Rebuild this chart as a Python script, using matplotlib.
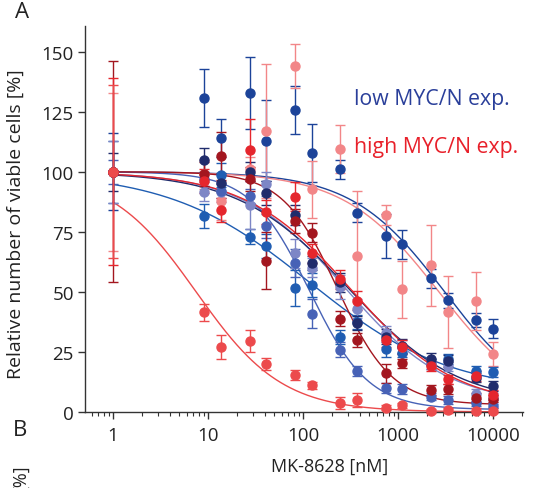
import numpy as np
import matplotlib
matplotlib.use("Agg")
import matplotlib.pyplot as plt

plt.rcParams['font.family'] = ['Open Sans', 'DejaVu Sans']

# concentrations (nM)
conc = [1, 9.145, 13.72, 27.43, 41.15, 82.30, 123.5, 246.9, 370.4, 740.7, 1111, 2222, 3333, 6667, 10000]

# low MYC/N expression lines
blue_right = [100, 130.7, 114, 133, 113, 125.7, 107.8, 101, 83, 73.3, 69.9, 55.7, 46.5, 38.3, 34.7]
blue_right_err = [16, 12, 8, 15, 17, 10, 12, 4, 4, 9, 6, 4, 3, 3, 4]
navy = [100, 105, 95.5, 100, 91, 82, 62, 54, 37, 31.4, 27.5, 22, 21.3, 14.3, 10.8]
navy_err = [8, 5, 4, 4, 5, 4, 3, 4, 3, 3, 3, 2.5, 2.5, 2, 2]
periwinkle = [100, 91.7, 91.5, 86, 95, 66, 60, 52, 43, 33, 27, 20, 19, 7.4, 6]
periwinkle_err = [13, 4, 4, 10, 5, 6, 4, 5, 4, 3, 3, 2, 2, 2, 2]
slate = [100, 97, 92, 90, 77.5, 62, 41, 26, 17, 10, 9.5, 6.3, 5, 3.6, 2.5]
slate_err = [5, 3, 3, 3, 5, 6, 6, 3, 2, 2, 2, 1.5, 1.5, 1, 1]
royal = [100, 81.7, 98.6, 73, 69, 51.5, 53, 31.3, 37.5, 26.1, 24.7, 19.9, 22, 17, 16.7]
royal_err = [13, 5, 5, 3, 5, 7.5, 5, 3, 3, 3, 2, 2, 2, 2, 2]

# high MYC/N expression lines
salmon = [100, 99, 88, 101, 117, 144, 92.7, 109.5, 65, 82, 51, 61, 41.7, 46.3, 24.3]
salmon_err = [33, 6, 8, 5, 28, 9, 12, 10, 27, 4, 12, 17, 15, 12, 5]
red = [100, 96.3, 84.2, 109, 83.3, 89.6, 66, 55.3, 46.3, 30, 27, 19, 13.6, 15, 7]
red_err = [39, 5, 5, 13, 5, 6, 4, 4, 4, 3, 3, 2, 2, 2, 2]
darkred = [100, 99, 106.6, 97, 63, 79.6, 74.7, 38.9, 30, 16.1, 20.2, 9.2, 9.7, 6, 5.6]
darkred_err = [46, 5, 10, 5, 12, 5, 4, 3, 3, 4, 2, 2, 2, 2, 1.5]
potent = [100, 41.5, 27, 29.5, 20, 15.3, 11.1, 3.6, 5, 1.8, 2.8, 0.4, 0.7, 0.6, 0.5]
potent_err = [36, 3.5, 5, 4.5, 2.5, 2, 1.5, 2.5, 3, 1, 1, 1, 1, 1, 1]

# fitted 4-parameter logistic curves: (top, bottom, EC50, hill)
fits = {
    'blue_right': (100, 0, 3100, 0.89),
    'navy': (100, 3, 300, 0.75),
    'periwinkle': (100, 3, 280, 0.8),
    'slate': (100, 1, 117, 1.4),
    'royal': (100, 8, 117, 0.59),
    'salmon': (100, 0, 2700, 0.87),
    'red': (100, 2, 320, 0.78),
    'darkred': (100, 3, 230, 1.5),
    'potent': (100, 0, 7.5, 0.96),
}

series = [
    ('blue_right', blue_right, blue_right_err, '#1c4399'),
    ('salmon', salmon, salmon_err, '#f28688'),
    ('royal', royal, royal_err, '#1f5db2'),
    ('periwinkle', periwinkle, periwinkle_err, '#7d86c6'),
    ('slate', slate, slate_err, '#4762b6'),
    ('navy', navy, navy_err, '#202c6c'),
    ('darkred', darkred, darkred_err, '#a3161f'),
    ('red', red, red_err, '#e5262d'),
    ('potent', potent, potent_err, '#ec4a4c'),
]

W, H = 539, 489
fig = plt.figure(figsize=(W / 100, H / 100), dpi=100)
ax = fig.add_axes([85 / W, 1 - 413 / H, (523 - 85) / W, (413 - 27) / H])

xx = np.logspace(0, 4, 400)
for name, vals, errs, col in series:
    top, bot, ec, h = fits[name]
    yy = bot + (top - bot) / (1 + (xx / ec) ** h)
    ax.plot(xx, yy, color=col, lw=1.0, zorder=2, clip_on=False)
for name, vals, errs, col in series:
    ax.errorbar(conc, vals, yerr=errs, fmt='o', color=col, ms=6.5,
                elinewidth=1.0, capsize=3.3, capthick=1.0, zorder=3, clip_on=False)

ax.set_xscale('log')
ax.set_xlim(0.507, 20700)
ax.set_ylim(0, 160.7)
ax.set_yticks([0, 25, 50, 75, 100, 125, 150])
ax.set_xticks([1, 10, 100, 1000, 10000])
ax.set_xticklabels(['1', '10', '100', '1000', '10000'])
for s in ['top', 'right']:
    ax.spines[s].set_visible(False)
for s in ['left', 'bottom']:
    ax.spines[s].set_color('#333333')
    ax.spines[s].set_linewidth(1.0)
ax.tick_params(axis='both', which='major', direction='out', length=5, width=1.0,
               color='#333333', labelsize=13.5, labelcolor='#222222')
ax.tick_params(axis='x', which='major', pad=5)
ax.tick_params(axis='y', which='major', pad=3)
ax.tick_params(axis='x', which='minor', direction='out', length=3, width=0.8, color='#333333')
ax.set_ylabel('Relative number of viable cells [%]', fontsize=14, color='#222222')
ax.yaxis.set_label_coords(-60 / 438, (413 - 224) / 386)

fig.text(354 / W, 1 - 100 / H, 'low MYC/N exp.', color='#2a3f9a', fontsize=15.3, va='center', ha='left')
fig.text(354 / W, 1 - 147 / H, 'high MYC/N exp.', color='#e8202a', fontsize=15.3, va='center', ha='left')

fig.text(22 / W, 1 - 13 / H, 'A', fontsize=16, ha='center', va='center', color='#222222')
fig.text(20 / W, 1 - 431 / H, 'B', fontsize=16, ha='center', va='center', color='#222222')
fig.text(330 / W, 1 - 467 / H, 'MK-8628 [nM]', fontsize=13, ha='center', va='center', color='#222222')
fig.text(20 / W, 1 - 478 / H, '[%]', fontsize=13, ha='center', va='center', rotation=90, color='#222222')

fig.savefig('out.png', dpi=100)
